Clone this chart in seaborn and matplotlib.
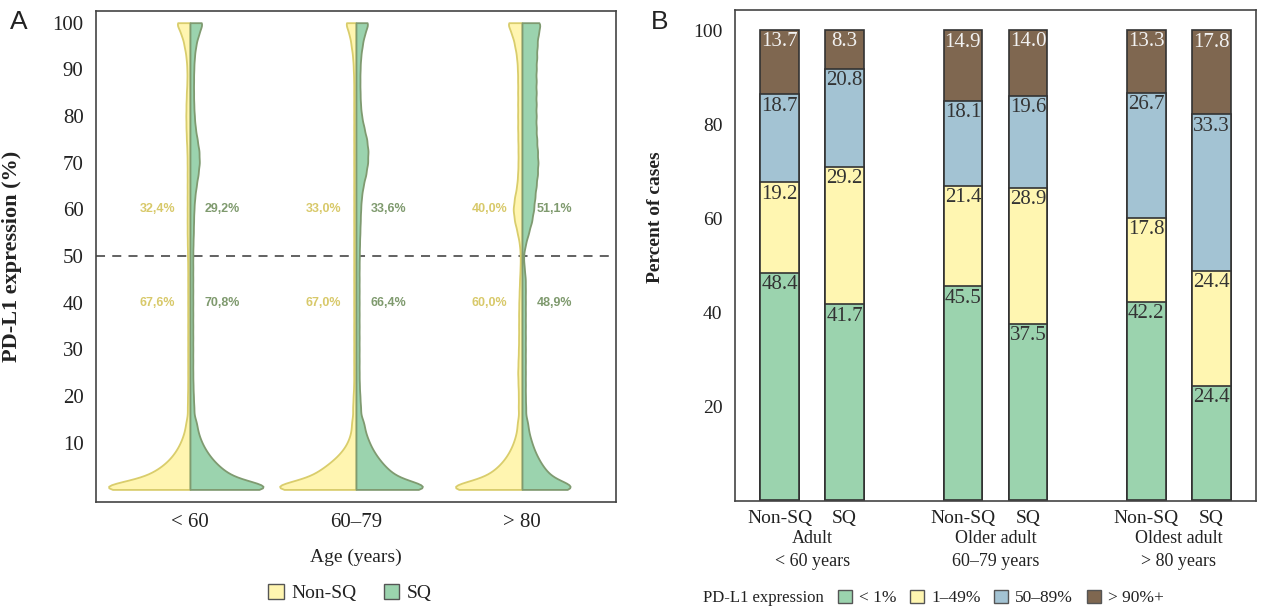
import numpy as np
import pandas as pd
import matplotlib.pyplot as plt
import seaborn as sns
from matplotlib.patches import Patch

# =============================================================
# DATA
# =============================================================

# --- Panel A: PD-L1 score distribution (number of cases per score) ---
ages = ["< 60", "60–79", "> 80"]
hists = ["Non-SQ", "SQ"]
pdl1_scores = [0, 1, 2, 3, 4, 5, 6, 7, 8, 9, 10, 11, 12, 13, 14,
               15, 17.5, 20, 22.5, 25, 27.5, 30, 32.5, 35, 37.5, 40, 42.5,
               45, 47.5, 50, 52.5, 55, 57.5, 60, 62.5, 65, 67.5, 70, 72.5,
               75, 77.5, 80, 82.5, 85, 87.5, 90, 92.5, 95, 97.5, 100]

nonsq_lt60 = [394, 134, 110, 90, 72, 58, 47, 38, 31, 25, 20, 16, 13, 10, 8,
              12, 14, 13, 12, 12, 12, 12, 12, 12, 12, 12, 12, 12, 12,
              13, 14, 15, 15, 15, 15, 15, 15, 15, 16, 19, 21, 22, 21, 19,
              16, 16, 20, 30, 45, 78]
sq_lt60 = [346, 123, 103, 86, 73, 61, 51, 43, 36, 30, 25, 21, 18, 15, 13,
           19, 21, 18, 16, 15, 15, 15, 15, 15, 15, 15, 15, 15, 15,
           15, 16, 18, 19, 21, 25, 33, 43, 50, 48, 38, 28, 23, 20, 19,
           19, 20, 23, 30, 45, 71]
nonsq_6079 = [358, 130, 110, 92, 78, 64, 51, 40, 31, 23, 18, 14, 11, 9, 8,
              15, 18, 15, 12, 12, 12, 12, 12, 12, 12, 12, 12, 12, 12,
              12, 12, 12, 12, 12, 12, 12, 12, 12, 12, 12, 12, 12, 12, 12,
              12, 14, 17, 25, 35, 60]
sq_6079 = [315, 115, 98, 84, 72, 62, 53, 46, 39, 33, 29, 25, 21, 18, 16,
           23, 25, 21, 18, 17, 17, 17, 17, 17, 17, 17, 17, 17, 17,
           18, 19, 21, 23, 25, 29, 38, 53, 63, 65, 58, 43, 30, 24, 22,
           21, 22, 25, 33, 45, 71]
nonsq_gt80 = [322, 110, 90, 74, 60, 49, 40, 33, 27, 22, 18, 15, 12, 10, 9,
              15, 20, 19, 21, 23, 21, 19, 18, 18, 18, 17, 15, 13, 10,
              9, 13, 25, 40, 48, 40, 28, 23, 21, 21, 22, 23, 23, 23, 23,
              23, 24, 28, 38, 53, 83]
sq_gt80 = [226, 82, 71, 60, 52, 44, 38, 33, 28, 24, 21, 18, 15, 13, 11,
           17, 20, 18, 18, 18, 18, 18, 18, 18, 18, 18, 18, 18, 12,
           7, 18, 35, 52, 62, 68, 75, 82, 85, 82, 78, 75, 75, 75, 75,
           75, 75, 78, 80, 85, 104]

# share of cases above / below the 50% cut-off
hi_nonsq = [32.4, 33.0, 40.0]
hi_sq = [29.2, 33.6, 51.1]
lo_nonsq = [67.6, 67.0, 60.0]
lo_sq = [70.8, 66.4, 48.9]

# --- Panel B: stacked percentages, order: group x (Non-SQ, SQ) ---
groups = ["Adult\n< 60 years", "Older adult\n60–79 years",
          "Oldest adult\n> 80 years"]
levels = ["< 1%", "1–49%", "50–89%", "> 90%+"]
pct_lt1 = [48.4, 41.7, 45.5, 37.5, 42.2, 24.4]
pct_1_49 = [19.2, 29.2, 21.4, 28.9, 17.8, 24.4]
pct_50_89 = [18.7, 20.8, 18.1, 19.6, 26.7, 33.3]
pct_gt90 = [13.7, 8.3, 14.9, 14.0, 13.3, 17.8]

# =============================================================
# STYLE
# =============================================================
sns.set_theme(style="white")
plt.rcParams["font.family"] = ["Liberation Serif", "DejaVu Serif"]
plt.rcParams["text.color"] = "#222222"
plt.rcParams["axes.labelcolor"] = "#222222"
plt.rcParams["xtick.color"] = "#222222"
plt.rcParams["ytick.color"] = "#222222"

FILL_A = {"Non-SQ": "#fff5b0", "SQ": "#9bd3ae"}
EDGE_A = {"Non-SQ": "#d9cd6c", "SQ": "#7f9a70"}
TXT_A = {"Non-SQ": "#d8c96a", "SQ": "#7f9a6e"}
COL_B = {"< 1%": "#9bd3ae", "1–49%": "#fff6b1",
         "50–89%": "#a3c3d3", "> 90%+": "#7f6750"}
SPINE = "#444444"

# per-violin half widths (x units)
half_w = {("< 60", "Non-SQ"): 0.49, ("< 60", "SQ"): 0.44,
          ("60–79", "Non-SQ"): 0.46, ("60–79", "SQ"): 0.40,
          ("> 80", "Non-SQ"): 0.40, ("> 80", "SQ"): 0.29}


def kde_bw(kde, width=1.3):
    # same kernel width (in score points) for every violin
    return width / kde.dataset.std(ddof=1)


fig = plt.figure(figsize=(12.75, 6.12), dpi=100)
ax1 = fig.add_axes([0.0753, 0.1797, 0.4078, 0.8023])
ax2 = fig.add_axes([0.5765, 0.181, 0.4085, 0.803])

# =============================================================
# PANEL A — split violins
# =============================================================
frames = []
for age, hist, cnt in [("< 60", "Non-SQ", nonsq_lt60), ("< 60", "SQ", sq_lt60),
                       ("60–79", "Non-SQ", nonsq_6079), ("60–79", "SQ", sq_6079),
                       ("> 80", "Non-SQ", nonsq_gt80), ("> 80", "SQ", sq_gt80)]:
    frames.append(pd.DataFrame({"age": age, "hist": hist,
                                "pdl1": np.repeat(pdl1_scores, cnt)}))
df_a = pd.concat(frames, ignore_index=True)

for (age, hist), sub in df_a.groupby(["age", "hist"], sort=False):
    sns.violinplot(data=sub, x="age", y="pdl1", hue="hist",
                   order=ages, hue_order=hists, split=True, dodge=True,
                   inner=None, cut=0, density_norm="width", gridsize=300,
                   width=2 * half_w[(age, hist)], bw_method=kde_bw,
                   palette=FILL_A, saturation=1, linecolor=EDGE_A[hist],
                   linewidth=1.3, legend=False, ax=ax1)

ax1.axhline(50, color="#555555", lw=1.3, ls=(0, (5, 4)), zorder=0)

for i in range(len(ages)):
    for y, lo_hi in [(60, (hi_nonsq, hi_sq)), (40, (lo_nonsq, lo_sq))]:
        ax1.text(i - 0.09, y, f"{lo_hi[0][i]:.1f}%".replace(".", ","),
                 ha="right", va="center", color=TXT_A["Non-SQ"],
                 fontsize=9, fontweight="bold", family="Liberation Sans")
        ax1.text(i + 0.09, y, f"{lo_hi[1][i]:.1f}%".replace(".", ","),
                 ha="left", va="center", color=TXT_A["SQ"],
                 fontsize=9, fontweight="bold", family="Liberation Sans")

ax1.set_xlim(-0.566, 2.566)
ax1.set_ylim(-2.7, 102.5)
ax1.set_yticks(range(10, 101, 10))
ax1.set_xlabel("Age (years)", fontsize=14, labelpad=12)
ax1.set_ylabel("PD-L1 expression (%)", fontsize=16, fontweight="bold")
ax1.yaxis.set_label_coords(-0.142, 0.5)
ax1.tick_params(axis="x", length=0, pad=8, labelsize=15)
ax1.tick_params(axis="y", length=6, width=1.2, pad=3, labelsize=15,
                color=SPINE)

# =============================================================
# PANEL B — stacked bars
# =============================================================
df_b = pd.DataFrame({"group": np.repeat(groups, 2), "hist": hists * 3,
                     "< 1%": pct_lt1, "1–49%": pct_1_49,
                     "50–89%": pct_50_89, "> 90%+": pct_gt90})
cum = df_b[levels].cumsum(axis=1)

centers = []
for lvl in reversed(levels):
    n0 = len(ax2.patches)
    sns.barplot(x=df_b["group"], y=cum[lvl], hue=df_b["hist"],
                order=groups, hue_order=hists, palette=[COL_B[lvl]] * 2,
                saturation=1, width=0.71, gap=0.41, dodge=True,
                edgecolor="#333333", linewidth=1.2, errorbar=None,
                legend=False, ax=ax2)
    bars = sorted(ax2.patches[n0:], key=lambda p: p.get_x())
    centers = [b.get_x() + b.get_width() / 2 for b in bars]
    tcol = "#f2f2f2" if lvl == "> 90%+" else "#333333"
    for xc, val, top in zip(centers, df_b[lvl], cum[lvl]):
        ax2.text(xc, top - 0.5, f"{val:.1f}", ha="center", va="top",
                 fontsize=15, color=tcol)

ax2.set_xlim(-0.42, 2.42)
ax2.set_ylim(-0.2, 104.3)
ax2.set_yticks([20, 40, 60, 80, 100])
ax2.set_xticks(centers, hists * 3)
ax2.set_xlabel("")
ax2.set_ylabel("Percent of cases", fontsize=14, fontweight="bold")
ax2.yaxis.set_label_coords(-0.136, 0.578)
ax2.tick_params(axis="x", length=0, pad=6, labelsize=14)
ax2.tick_params(axis="y", length=6, width=1.2, pad=3, labelsize=14,
                color=SPINE)
for i, g in enumerate(groups):
    ax2.text(i, -0.058, g, transform=ax2.get_xaxis_transform(),
             ha="center", va="top", fontsize=13, linespacing=1.5)

for ax in (ax1, ax2):
    for sp in ax.spines.values():
        sp.set_visible(True)
        sp.set_color(SPINE)
        sp.set_linewidth(1.2)

# =============================================================
# LEGENDS & PANEL LETTERS
# =============================================================
leg_kw = dict(frameon=False, handlelength=0.8, handleheight=0.8,
              handletextpad=0.4, borderpad=0, borderaxespad=0)
fig.legend(handles=[Patch(fc=FILL_A[h], ec="#555555") for h in hists],
           labels=hists, loc="center", ncol=2, columnspacing=1.4,
           fontsize=14, bbox_to_anchor=(350 / 1275, 1 - 593 / 612), **leg_kw)
fig.text(703 / 1275, 1 - 598 / 612, "PD-L1 expression", fontsize=12,
         va="center", ha="left")
fig.legend(handles=[Patch(fc=COL_B[l], ec="#555555") for l in levels],
           labels=levels, loc="center left", ncol=4, columnspacing=0.8,
           fontsize=12.5, bbox_to_anchor=(838 / 1275, 1 - 598 / 612),
           **leg_kw)

fig.text(10 / 1275, 1 - 22 / 612, "A", fontsize=19, va="center",
         family="Liberation Sans", color="#222222")
fig.text(651 / 1275, 1 - 22 / 612, "B", fontsize=19, va="center",
         family="Liberation Sans", color="#222222")

fig.savefig("out.png", dpi=100)
